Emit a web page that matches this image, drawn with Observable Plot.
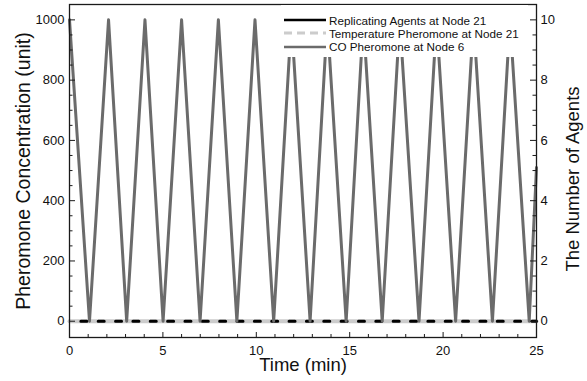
<!DOCTYPE html>
<html>
<head>
<meta charset="utf-8">
<script src="https://cdn.jsdelivr.net/npm/d3@7"></script>
<script src="https://cdn.jsdelivr.net/npm/@observablehq/plot@0.6"></script>
<style>
  html, body { margin: 0; padding: 0; background: #fff; }
  #wrap { position: relative; width: 587px; height: 381px; font-family: "Liberation Sans", Arial, Helvetica, sans-serif; }
  #legend { position: absolute; left: 281px; top: 5px; width: 247px; height: 52px; background: #fff; }
  .row { position: absolute; left: 0; height: 14px; display: flex; align-items: center; font-size: 11.7px; color: #111; white-space: nowrap; }
  .row svg { margin-right: 3px; margin-left: 3px; }
</style>
</head>
<body>
<div id="wrap"></div>
<script>
// ---- Data ----
// CO Pheromone at Node 6 (triangle wave), time in minutes
const coTime  = [0, 1.07, 2.09, 3.06, 4.04, 5.01, 6.0, 6.99, 7.97, 8.96, 9.93, 10.93, 11.88, 12.88, 13.8, 14.81, 15.73, 16.74, 17.68, 18.71, 19.65, 20.67, 21.63, 22.64, 23.58, 24.61, 25];
const coValue = [1000, 0, 1000, 0, 1000, 0, 1000, 0, 1000, 0, 1000, 0, 1000, 0, 1000, 0, 1000, 0, 1000, 0, 1000, 0, 1000, 0, 1000, 0, 510];
// Replicating Agents at Node 21 (right axis, number of agents)
const agentTime  = [0, 25];
const agentCount = [0, 0];
// Temperature Pheromone at Node 21
const tempTime  = [0, 25];
const tempValue = [0, 0];
// Axis ticks
const xTicks = [0, 5, 10, 15, 20, 25];
const yTicks = [0, 200, 400, 600, 800, 1000];
const y2Ticks = [0, 2, 4, 6, 8, 10];
const seriesNames = ["Replicating Agents at Node 21", "Temperature Pheromone at Node 21", "CO Pheromone at Node 6"];

// right axis = number of agents, drawn on the same scale as concentration / 100
const agentScale = 100;

const co = coTime.map((t, i) => ({t, v: coValue[i]}));
const agents = agentTime.map((t, i) => ({t, v: agentCount[i] * agentScale}));
const temp = tempTime.map((t, i) => ({t, v: tempValue[i]}));

const W = 587, H = 381, mL = 69, mR = 51, mT = 4, mB = 44;
const pw = W - mL - mR, ph = H - mT - mB;

const yMinor = d3.range(0, 1001, 50).filter(v => v % 200 !== 0);
const xMinor = d3.range(0, 26, 1).filter(v => v % 5 !== 0);
const axisColor = "#1a1a1a";

const chart = Plot.plot({
  width: W, height: H,
  marginLeft: mL, marginRight: mR, marginTop: mT, marginBottom: mB,
  x: {domain: [0, 25]},
  y: {domain: [-54, 1051]},
  style: {fontFamily: "'Liberation Sans', Arial, Helvetica, sans-serif", background: "white", color: "#111"},
  marks: [
    Plot.line(temp, {x: "t", y: "v", stroke: "#cccccc", strokeWidth: 4}),
    Plot.line(agents, {x: "t", y: "v", stroke: "#000", strokeWidth: 3, strokeDasharray: "6,11.35", strokeDashoffset: 6}),
    Plot.line(co, {x: "t", y: "v", stroke: "#6b6b6b", strokeWidth: 3}),
    Plot.frame({stroke: axisColor, strokeWidth: 1.3}),
    // inward ticks: left
    Plot.ruleY(yTicks, {y: d => d, insetRight: pw - 6, stroke: axisColor}),
    Plot.ruleY(yMinor, {y: d => d, insetRight: pw - 3.5, stroke: axisColor}),
    // right
    Plot.ruleY(y2Ticks, {y: d => d * agentScale, insetLeft: pw - 6, stroke: axisColor}),
    Plot.ruleY(yMinor, {y: d => d, insetLeft: pw - 3.5, stroke: axisColor}),
    // bottom
    Plot.ruleX(xTicks, {x: d => d, insetTop: ph - 5, stroke: axisColor}),
    Plot.ruleX(xMinor, {x: d => d, insetTop: ph - 3, stroke: axisColor}),
    Plot.axisX({ticks: xTicks, tickFormat: d => String(d), tickSize: 0, tickPadding: 8, fontSize: 13, label: null}),
    Plot.axisY({anchor: "left", ticks: yTicks, tickFormat: d => String(d), tickSize: 0, tickPadding: 5, fontSize: 13, label: null}),
    Plot.axisY({anchor: "right", ticks: y2Ticks.map(d => d * agentScale), tickFormat: d => String(d / agentScale), tickSize: 0, tickPadding: 4, fontSize: 13, label: null}),
    Plot.text(["Time (min)"], {frameAnchor: "bottom", dy: 33, text: d => d, fontSize: 18.5, fill: "#111"}),
    Plot.text(["Pheromone Concentration (unit)"], {frameAnchor: "left", textAnchor: "middle", dx: -46, rotate: -90, text: d => d, fontSize: 19.5, fill: "#111"}),
    Plot.text(["The Number of Agents"], {frameAnchor: "right", textAnchor: "middle", dx: 37, dy: 8, rotate: -90, text: d => d, fontSize: 18.5, fill: "#111"})
  ]
});

const wrap = document.getElementById("wrap");
wrap.appendChild(chart);

// Legend overlay (inside the plot area, top right)
const legend = document.createElement("div");
legend.id = "legend";
const styles = [
  {stroke: "#000", width: 2.5, dash: null},
  {stroke: "#cccccc", width: 3, dash: "8,5"},
  {stroke: "#6b6b6b", width: 2.5, dash: null}
];
const rowTops = [8, 21.3, 34.7];
seriesNames.forEach((name, i) => {
  const row = document.createElement("div");
  row.className = "row";
  row.style.top = rowTops[i] + "px";
  const s = styles[i];
  row.innerHTML = `<svg width="42" height="6"><line x1="0" y1="3" x2="42" y2="3" stroke="${s.stroke}" stroke-width="${s.width}" ${s.dash ? `stroke-dasharray="${s.dash}"` : ""}/></svg><span>${name}</span>`;
  legend.appendChild(row);
});
wrap.appendChild(legend);
</script>
</body>
</html>
